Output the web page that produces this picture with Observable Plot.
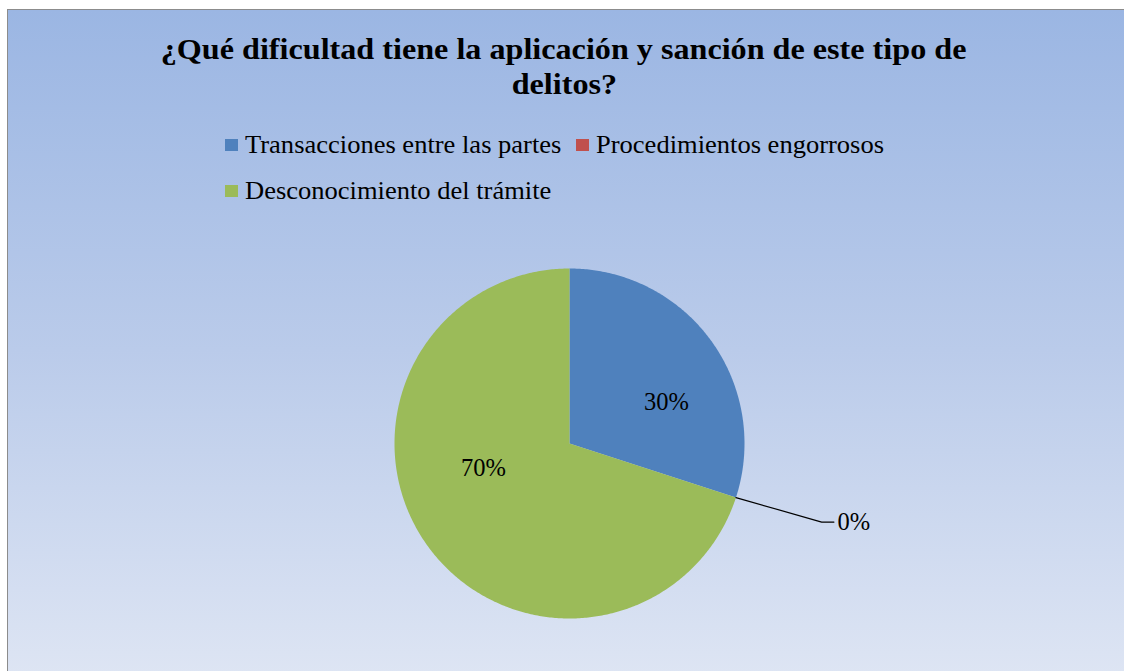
<!DOCTYPE html>
<html>
<head>
<meta charset="utf-8">
<script src="https://cdn.jsdelivr.net/npm/d3@7"></script>
<script src="https://cdn.jsdelivr.net/npm/@observablehq/plot@0.6"></script>
<style>
  html, body { margin: 0; padding: 0; width: 1124px; height: 671px; overflow: hidden; background: #ffffff; }
  #frame {
    position: absolute; left: 7px; top: 9px; width: 1130px; height: 680px;
    border-left: 1px solid #8c8c8c; border-top: 1px solid #8c8c8c;
    background: linear-gradient(to bottom, #9bb6e3 0%, #bacbea 50%, #dfe6f4 100%);
  }
  #title {
    position: absolute; left: 0; top: 32px; width: 1128px; text-align: center;
    font-family: "Liberation Serif", "Times New Roman", serif; font-weight: bold;
    font-size: 29.5px; line-height: 35px; color: #000;
  }
  #title span { display: inline-block; transform: scaleX(1.09); transform-origin: center; }
  #legend {
    position: absolute; left: 225px; top: 131px; width: 720px;
    font-family: "Liberation Serif", "Times New Roman", serif; font-size: 26px; color: #000;
    display: flex; flex-wrap: wrap;
  }
  .item { display: flex; align-items: center; margin-right: 15px; margin-bottom: 18px; line-height: 28px; flex: none; }
  .sw { width: 13px; height: 12px; margin-right: 7px; display: inline-block; flex: none; }
  .txt { display: inline-block; white-space: nowrap; }
  .txt span { display: inline-block; transform: scaleX(1.02); transform-origin: left center; }
  #chart { position: absolute; left: 0; top: 0; }
</style>
</head>
<body>
<div id="frame"></div>
<div id="chart"></div>
<div id="title"><span>¿Qué dificultad tiene la aplicación y sanción de este tipo de</span><br><span>delitos?</span></div>
<div id="legend"></div>
<script>
const categories = ["Transacciones entre las partes", "Procedimientos engorrosos", "Desconocimiento del trámite"];
const values = [30, 0, 70];
const labels = ["30%", "0%", "70%"];
const colors = ["#4f81bd", "#c0504d", "#9bbb59"];

// legend
const leg = document.getElementById("legend");
categories.forEach((c, i) => {
  const d = document.createElement("div");
  d.className = "item";
  d.innerHTML = `<span class="sw" style="background:${colors[i]}"></span><span class="txt"><span>${c}</span></span>`;
  leg.appendChild(d);
  if (i === 1) {
    const br = document.createElement("div");
    br.style.flexBasis = "100%"; br.style.height = "0";
    leg.appendChild(br);
  }
});
leg.querySelectorAll(".txt").forEach(t => {
  const w = t.firstChild.offsetWidth;
  t.style.width = (w * 1.02) + "px";
});

// slices via d3.pie (clockwise from 12 o'clock)
const pie = d3.pie().sort(null).value(d => d)(values);
const polys = [];
pie.forEach((p, i) => {
  if (p.endAngle - p.startAngle <= 0) return;
  polys.push({cat: categories[i], x: 0, y: 0});
  const n = Math.max(2, Math.ceil((p.endAngle - p.startAngle) / 0.01));
  for (let j = 0; j <= n; j++) {
    const a = p.startAngle + (p.endAngle - p.startAngle) * j / n;
    polys.push({cat: categories[i], x: Math.sin(a), y: Math.cos(a)});
  }
  polys.push({cat: categories[i], x: 0, y: 0});
});

// labels
const lab = pie.map((p, i) => {
  const a = (p.startAngle + p.endAngle) / 2;
  return {cat: categories[i], label: labels[i], v: values[i], a, x: 0.6 * Math.sin(a), y: 0.6 * Math.cos(a)};
});
const inside = lab.filter(d => d.v > 0);
const zero = lab.filter(d => d.v === 0);
// leader line for 0% slice
const leader = [];
zero.forEach(d => {
  const ex = Math.sin(d.a), ey = Math.cos(d.a);
  leader.push({cat: d.cat, x: ex, y: ey});
  leader.push({cat: d.cat, x: ex + 0.49, y: ey - 0.14});
  leader.push({cat: d.cat, x: ex + 0.56, y: ey - 0.14});
});
const zeroText = zero.map(d => ({label: d.label, x: Math.sin(d.a) + 0.58, y: Math.cos(d.a) - 0.14}));

const R = 175, cx = 569, cy = 443, W = 1124, H = 671;
const plot = Plot.plot({
  width: W, height: H, margin: 0,
  style: {background: "transparent", fontFamily: "Liberation Serif, Times New Roman, serif"},
  x: {domain: [-cx / R, (W - cx) / R], range: [0, W], axis: null},
  y: {domain: [-(H - cy) / R, cy / R], range: [H, 0], axis: null},
  color: {domain: categories, range: colors},
  marks: [
    Plot.line(polys, {x: "x", y: "y", z: "cat", fill: "cat", stroke: "none", curve: "linear"}),
    Plot.line(leader, {x: "x", y: "y", z: "cat", stroke: "#000", strokeWidth: 1.2, curve: "linear"}),
    Plot.text(inside, {x: "x", y: "y", text: "label", fontSize: 24.5, fill: "#000"}),
    Plot.text(zeroText, {x: "x", y: "y", text: "label", fontSize: 24.5, fill: "#000", textAnchor: "start"})
  ]
});
document.getElementById("chart").appendChild(plot);
// per-label offsets to follow the reference's best-fit placement
const texts = plot.querySelectorAll("g[aria-label=text]")[0];
if (texts) {
  const offs = [[12, 20], [-1, -37]];
  texts.querySelectorAll("text").forEach((t, i) => {
    const o = offs[i] || [0, 0];
    const tr = t.getAttribute("transform") || "";
    t.setAttribute("transform", tr + ` translate(${o[0]},${o[1]})`);
  });
}
</script>
</body>
</html>
